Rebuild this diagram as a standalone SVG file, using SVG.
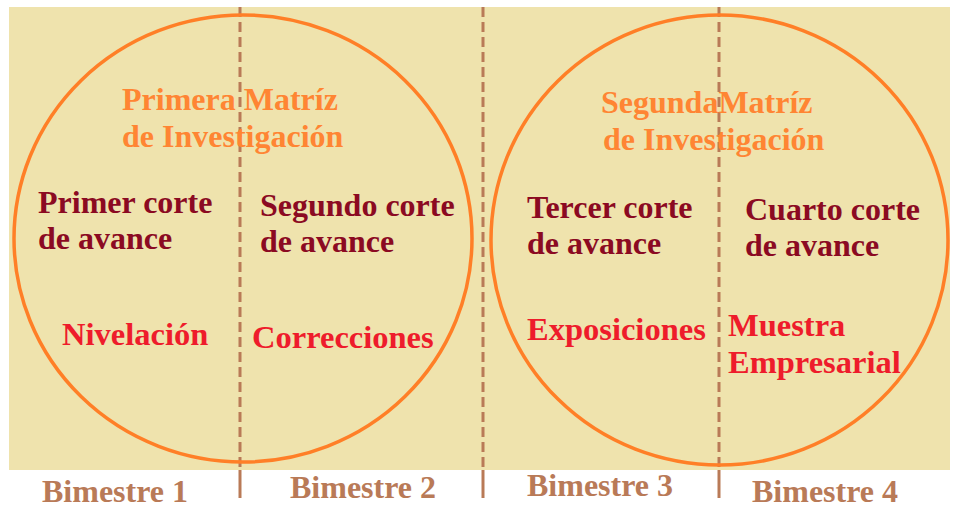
<svg xmlns="http://www.w3.org/2000/svg" width="956" height="508" viewBox="0 0 956 508">
<style>
text{font-family:"Liberation Serif","Times New Roman",serif;font-weight:bold;font-size:32px}
.t{fill:#FF8533}
.d{fill:#8B0A22}
.r{fill:#EE1C2B;font-size:32.5px}
.b{fill:#B97A57}
.div{stroke:#B97A57;stroke-width:3;fill:none}
.circ{stroke:#FF7F27;stroke-width:3.5;fill:none}
</style>
<rect x="9" y="7" width="941" height="463" fill="#EFE3AD"/>
<g id="connectors">
<line class="div" x1="240" y1="7" x2="240" y2="470" stroke-dasharray="10 5"/>
<line class="div" x1="240" y1="470" x2="240" y2="498"/>
<line class="div" x1="483" y1="7" x2="483" y2="470" stroke-dasharray="10 5"/>
<line class="div" x1="483" y1="470" x2="483" y2="498"/>
<line class="div" x1="719" y1="7" x2="719" y2="470" stroke-dasharray="10 5"/>
<line class="div" x1="719" y1="470" x2="719" y2="498"/>
</g>
<g id="circle1"><ellipse class="circ" cx="243" cy="238.5" rx="229" ry="223.5"/></g>
<g id="circle2"><ellipse class="circ" cx="719.5" cy="240" rx="228.5" ry="225"/></g>
<g id="title1"><text class="t" x="122" y="110">Primera Matríz</text><text class="t" x="122" y="147">de Investigación</text></g>
<g id="title2"><text class="t" x="601" y="113">SegundaMatríz</text><text class="t" x="603" y="150">de Investigación</text></g>
<g id="corte1"><text class="d" x="38" y="213">Primer corte</text><text class="d" x="38" y="249">de avance</text></g>
<g id="corte2"><text class="d" x="260" y="216">Segundo corte</text><text class="d" x="260" y="252">de avance</text></g>
<g id="corte3"><text class="d" x="527" y="218">Tercer corte</text><text class="d" x="527" y="254">de avance</text></g>
<g id="corte4"><text class="d" x="745" y="220">Cuarto corte</text><text class="d" x="745" y="256">de avance</text></g>
<g id="act1"><text class="r" x="62" y="345">Nivelación</text></g>
<g id="act2"><text class="r" x="252" y="348">Correcciones</text></g>
<g id="act3"><text class="r" x="527" y="340">Exposiciones</text></g>
<g id="act4"><text class="r" x="728" y="336">Muestra</text><text class="r" x="728" y="373">Empresarial</text></g>
<g id="bim1"><text class="b" x="42" y="502">Bimestre 1</text></g>
<g id="bim2"><text class="b" x="290" y="498">Bimestre 2</text></g>
<g id="bim3"><text class="b" x="527" y="496">Bimestre 3</text></g>
<g id="bim4"><text class="b" x="752" y="502">Bimestre 4</text></g>
</svg>
